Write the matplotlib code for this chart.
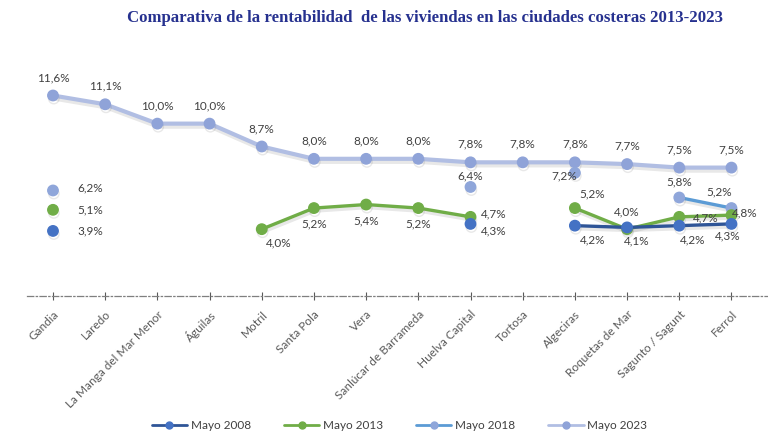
import numpy as np
import matplotlib.pyplot as plt
import matplotlib.patheffects as pe

nan = np.nan

ciudades = ['Gandia', 'Laredo', 'La Manga del Mar Menor', 'Águilas', 'Motril',
            'Santa Pola', 'Vera', 'Sanlúcar de Barrameda', 'Huelva Capital',
            'Tortosa', 'Algeciras', 'Roquetas de Mar', 'Sagunto / Sagunt', 'Ferrol']

mayo_2008 = [3.9, nan, nan, nan, nan, nan, nan, nan, 4.3, nan, 4.2, 4.1, 4.2, 4.3]
mayo_2013 = [5.1, nan, nan, nan, 4.0, 5.2, 5.4, 5.2, 4.7, nan, 5.2, 4.0, 4.7, 4.8]
mayo_2018 = [6.2, nan, nan, nan, nan, nan, nan, nan, 6.4, nan, 7.2, nan, 5.8, 5.2]
mayo_2023 = [11.6, 11.1, 10.0, 10.0, 8.7, 8.0, 8.0, 8.0, 7.8, 7.8, 7.8, 7.7, 7.5, 7.5]

titulo = 'Comparativa de la rentabilidad  de las viviendas en las ciudades costeras 2013-2023'

# label offsets in pixels (dx, dy, ha) for each point, per series
off_2008 = {0: (24, 0, 'left'), 8: (10, -7, 'left'), 10: (18, -14, 'center'),
            11: (10, -14, 'center'), 12: (13, -14, 'center'), 13: (-4, -12, 'center')}
off_2013 = {0: (24, 0, 'left'), 4: (17, -14, 'center'), 5: (0, -16, 'center'),
            6: (0, -16, 'center'), 7: (0, -16, 'center'), 8: (10, 3, 'left'),
            10: (17, 14, 'center'), 11: (0, 17, 'center'), 12: (14, -1, 'left'),
            13: (0, 2, 'left')}
off_2018 = {0: (24, 3, 'left'), 8: (0, 11, 'center'), 10: (-11, -3, 'center'),
            12: (0, 16, 'center'), 13: (-12, 16, 'center')}
off_2023 = {i: (0, 18, 'center') for i in range(len(ciudades))}

series = [
    ('Mayo 2008', mayo_2008, '#2F5597', '#4472C4', 2.4, off_2008),
    ('Mayo 2013', mayo_2013, '#70AD47', '#70AD47', 2.4, off_2013),
    ('Mayo 2018', mayo_2018, '#5B9BD5', '#8FA6DA', 2.4, off_2018),
    ('Mayo 2023', mayo_2023, '#B1BEE3', '#8FA3D8', 3.0, off_2023),
]

plt.rcParams['font.family'] = ['Lato', 'DejaVu Sans']

fig = plt.figure(figsize=(7.68, 4.43), dpi=100)
ax = fig.add_axes([0.035, 0.3318, 0.965, 0.54])

x = np.arange(len(ciudades))
shadow = [pe.SimpleLineShadow(offset=(0.6, -2.2), shadow_color='#808080', alpha=0.18),
          pe.Normal()]

for nombre, vals, lc, mc, lw, offs in reversed(series):
    v = np.array(vals, dtype=float)
    ax.plot(x, v, color=lc, lw=lw, marker='o', ms=7.5, mfc=mc, mec=mc,
            label=nombre, path_effects=shadow, solid_capstyle='round',
            zorder=3)
    for i, (dx, dy, ha) in offs.items():
        if np.isnan(v[i]):
            continue
        ax.annotate(('%.1f%%' % v[i]).replace('.', ','), (x[i], v[i]),
                    xytext=(dx * 0.72, dy * 0.72), textcoords='offset points',
                    ha=ha, va='center', fontsize=8.5, color='#404040', zorder=5)

ax.set_xlim(-0.5, 13.7)
ax.set_ylim(0.2, 13.8)
for s in ['top', 'right', 'left']:
    ax.spines[s].set_visible(False)
ax.spines['bottom'].set_linestyle((0, (5, 2, 1, 2)))
ax.spines['bottom'].set_color('#7F7F7F')
ax.spines['bottom'].set_linewidth(0.9)
ax.set_yticks([])
ax.set_xticks(x)
ax.set_xticklabels(ciudades, rotation=45, ha='right', rotation_mode='anchor',
                   fontsize=8.5, color='#595959')
ax.tick_params(axis='x', direction='inout', length=6, width=0.8, color='#595959', pad=6)

fig.text(0.553, 0.959, titulo, ha='center', va='center', fontsize=12.1,
         fontweight='bold', color='#26318F', family='Liberation Serif')

leg = fig.legend(*[list(reversed(l)) for l in ax.get_legend_handles_labels()],
                 loc='center', bbox_to_anchor=(0.52, 0.04), ncol=4, frameon=False,
                 fontsize=8.5, handlelength=3.0, columnspacing=2.8,
                 handletextpad=0.3)
for h in leg.get_lines():
    h.set_linewidth(2)
    h.set_markersize(5)
    h.set_path_effects([])
for t in leg.get_texts():
    t.set_color('#404040')

fig.savefig('out.png', dpi=100)
